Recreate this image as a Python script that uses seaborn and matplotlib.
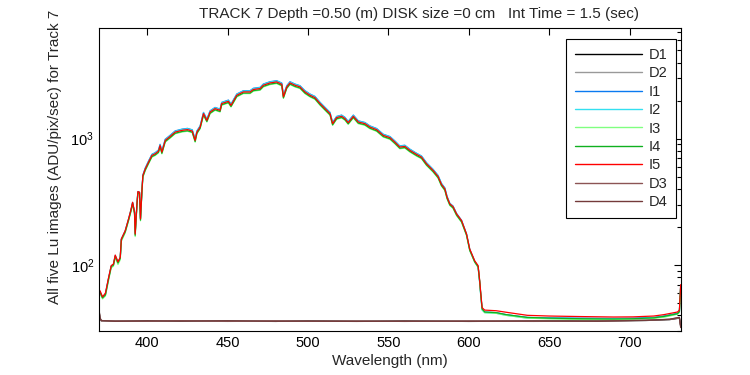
import numpy as np
import pandas as pd
import seaborn as sns
import matplotlib.pyplot as plt

# wavelength grid (nm) for the illuminated spectra
wl = [370.0, 370.8, 372.2, 374.0, 376.0, 377.6, 379.0, 380.1, 381.8, 383.2,
      383.9, 386.3, 388.4, 390.0, 390.9, 392.1, 392.5, 393.6, 394.2, 395.2,
      395.8, 396.7, 397.3, 398.8, 400.8, 402.9, 405.0, 407.0, 408.0, 409.1,
      411.2, 414.3, 417.4, 421.6, 425.0, 428.0, 429.8, 430.9, 432.9, 435.0,
      437.1, 439.1, 442.2, 445.3, 446.3, 450.5, 452.1, 455.7, 459.8, 464.0,
      466.0, 470.2, 472.2, 476.4, 480.5, 483.7, 484.7, 486.8, 488.8, 491.9,
      495.0, 498.1, 501.2, 504.3, 507.5, 510.6, 513.7, 515.3, 517.8, 520.9,
      523.0, 525.0, 528.2, 531.3, 535.4, 538.5, 542.7, 546.8, 551.0, 554.0,
      557.1, 560.2, 563.4, 567.5, 570.6, 573.7, 577.8, 580.9, 583.0, 585.1,
      586.5, 588.2, 590.2, 592.4, 595.5, 598.6, 600.6, 603.7, 605.8, 606.8,
      607.5, 608.3, 609.9, 617.1, 623.3, 636.5, 650.0, 670.4, 690.0, 702.2,
      715.0, 721.3, 729.8, 731.0, 731.8]

i1 = [63, 60, 55, 59, 79, 98, 101, 118, 105, 114,
      160, 186, 231, 276, 312, 262, 180, 303, 380, 376,
      235, 391, 516, 587, 665, 752, 776, 814, 903, 800,
      990, 1066, 1153, 1190, 1207, 1176, 990, 1153, 1263, 1614,
      1428, 1662, 1768, 1715, 1939, 2021, 1879, 2258, 2398, 2400,
      2506, 2550, 2708, 2826, 2878, 2757, 2199, 2628, 2826, 2708,
      2628, 2400, 2259, 2162, 1940, 1769, 1615, 1345, 1501, 1538,
      1475, 1370, 1538, 1385, 1344, 1263, 1204, 1085, 1040, 961,
      877, 888, 826, 767, 730, 646, 572, 512, 443, 408,
      349, 308, 293, 256, 226, 176, 133, 107, 97, 73,
      57, 45, 42.5, 42, 40.5, 38.5, 38.2, 38, 37.8, 38,
      38.5, 39.5, 41.5, 43, 68]

i2 = [63, 61, 55, 59, 79, 98, 101, 119, 105, 114,
      160, 186, 231, 277, 313, 262, 178, 304, 381, 377,
      233, 390, 514, 584, 661, 747, 771, 809, 897, 795,
      984, 1059, 1146, 1183, 1200, 1169, 984, 1146, 1256, 1605,
      1420, 1653, 1758, 1705, 1928, 2009, 1868, 2245, 2384, 2385,
      2491, 2535, 2692, 2809, 2861, 2741, 2186, 2613, 2809, 2692,
      2613, 2385, 2245, 2148, 1928, 1758, 1605, 1337, 1492, 1529,
      1466, 1362, 1529, 1377, 1337, 1256, 1197, 1079, 1035, 955,
      872, 883, 821, 763, 727, 643, 570, 510, 441, 406,
      348, 307, 292, 255, 225, 175, 132, 106, 96, 72,
      56, 44, 42, 41.5, 40, 38, 37.8, 37.6, 37.5, 37.6,
      38.2, 39, 41, 42.5, 67]

i3 = [61, 59, 54, 57, 76, 95, 98, 115, 101, 110,
      154, 180, 224, 268, 303, 252, 168, 294, 369, 364,
      224, 376, 495, 560, 632, 714, 737, 773, 858, 759,
      940, 1012, 1094, 1129, 1145, 1116, 940, 1094, 1199, 1532,
      1355, 1577, 1677, 1627, 1839, 1917, 1782, 2142, 2275, 2275,
      2377, 2418, 2568, 2680, 2730, 2614, 2086, 2493, 2680, 2568,
      2493, 2275, 2142, 2050, 1839, 1677, 1532, 1276, 1424, 1459,
      1399, 1300, 1459, 1314, 1276, 1199, 1143, 1030, 987, 912,
      832, 843, 784, 728, 694, 614, 544, 487, 422, 389,
      334, 296, 281, 246, 218, 171, 130, 105, 96, 73,
      57, 44.5, 42, 41.5, 40, 38, 37.5, 37, 37, 37.2,
      37.8, 38.6, 40.8, 42.2, 66]

i4 = [62, 60, 55, 58, 78, 97, 100, 117, 104, 113,
      158, 183, 227, 272, 308, 257, 172, 299, 374, 369,
      227, 381, 502, 566, 639, 722, 745, 781, 867, 767,
      950, 1022, 1105, 1141, 1156, 1127, 950, 1105, 1211, 1547,
      1369, 1593, 1694, 1643, 1858, 1936, 1800, 2164, 2298, 2298,
      2401, 2443, 2594, 2708, 2758, 2641, 2107, 2519, 2708, 2594,
      2519, 2298, 2164, 2071, 1858, 1694, 1547, 1289, 1439, 1474,
      1413, 1313, 1474, 1328, 1289, 1211, 1154, 1041, 998, 921,
      841, 852, 792, 736, 701, 620, 550, 492, 426, 393,
      337, 299, 284, 249, 220, 173, 131, 106, 97, 74,
      58, 45, 42.5, 42, 40.5, 38.5, 38, 37.6, 37.4, 37.6,
      38.2, 39.2, 41.2, 42.8, 68]

i5 = [64, 62, 56, 60, 80, 99, 102, 120, 106, 115,
      161, 187, 232, 278, 314, 262, 176, 305, 382, 377,
      232, 389, 512, 578, 652, 737, 760, 797, 885, 783,
      969, 1043, 1128, 1164, 1180, 1150, 969, 1128, 1236, 1579,
      1397, 1626, 1729, 1677, 1896, 1976, 1837, 2208, 2345, 2345,
      2450, 2493, 2647, 2763, 2814, 2695, 2150, 2570, 2763, 2647,
      2570, 2345, 2208, 2113, 1896, 1729, 1579, 1315, 1468, 1504,
      1442, 1340, 1504, 1355, 1315, 1236, 1178, 1062, 1018, 940,
      858, 869, 808, 751, 715, 633, 561, 502, 435, 401,
      344, 305, 290, 254, 225, 176, 134, 108, 99, 75,
      59, 46, 44, 43.5, 42.3, 40, 39.5, 39.1, 38.8, 38.9,
      39.5, 40.5, 42.5, 44, 70]

# dark frames
wl_dark = [370.0, 370.6, 371.4, 380, 400, 420, 450, 480, 500, 530,
           560, 600, 640, 680, 710, 725, 731.0, 731.8]
d1 = [44, 38, 36.3, 36.0, 36.2, 35.9, 36.1, 35.8, 36.3, 35.9,
      36.1, 35.8, 36.0, 36.2, 36.4, 37.0, 38.0, 33.0]
d2 = [43, 37.5, 36.1, 36.2, 35.9, 36.1, 35.8, 36.0, 36.1, 36.0,
      35.9, 36.0, 35.8, 36.0, 36.5, 37.2, 38.2, 32.5]
d3 = [44, 38.2, 36.2, 36.1, 36.0, 36.3, 35.9, 36.2, 35.9, 36.1,
      35.8, 36.1, 35.9, 36.1, 36.6, 37.1, 38.4, 33.0]
d4 = [45, 38.5, 36.4, 35.9, 36.1, 36.0, 36.2, 35.9, 36.0, 35.8,
      36.0, 35.9, 36.1, 35.9, 36.5, 37.3, 38.6, 32.0]

order = ['D1', 'D2', 'I1', 'I2', 'I3', 'I4', 'I5', 'D3', 'D4']
colors = {'D1': '#000000', 'D2': '#999999', 'I1': '#0a7af0', 'I2': '#33e0f0',
          'I3': '#80ff80', 'I4': '#10b020', 'I5': '#ff0000',
          'D3': '#8c5454', 'D4': '#743a3a'}

series = {'D1': (wl_dark, d1), 'D2': (wl_dark, d2), 'I1': (wl, i1), 'I2': (wl, i2),
          'I3': (wl, i3), 'I4': (wl, i4), 'I5': (wl, i5),
          'D3': (wl_dark, d3), 'D4': (wl_dark, d4)}

frames = []
for name in order:
    xs, ys = series[name]
    frames.append(pd.DataFrame({'wl': xs, 'val': ys, 'series': name}))
df = pd.concat(frames, ignore_index=True)

sns.set_style('white')
plt.rcParams['font.family'] = ['Liberation Sans', 'DejaVu Sans']
plt.rcParams['mathtext.fontset'] = 'custom'
plt.rcParams['mathtext.rm'] = 'Liberation Sans'
plt.rcParams['mathtext.it'] = 'Liberation Sans'

fig = plt.figure(figsize=(7.5, 3.75), dpi=100)
ax = fig.add_axes([0.132, 0.117, 0.776, 0.808])

sns.lineplot(data=df, x='wl', y='val', hue='series', hue_order=order,
             palette=colors, estimator=None, sort=False, linewidth=0.9, ax=ax)

ax.set_yscale('log')
ax.set_xlim(370, 732)
ax.set_ylim(30, 7500)
ax.set_xticks([400, 450, 500, 550, 600, 650, 700])

for s in ax.spines.values():
    s.set_color('black')
    s.set_linewidth(0.8)
ax.tick_params(which='both', direction='in', top=True, right=True,
               colors='black', labelsize=10.5, width=0.8)
ax.tick_params(which='major', length=5)
ax.tick_params(which='minor', length=3)
ax.tick_params(axis='x', which='minor', bottom=False, top=False)

ax.set_title('TRACK 7 Depth =0.50 (m) DISK size =0 cm   Int Time = 1.5 (sec)',
             fontsize=11, pad=7, x=0.55)
ax.set_xlabel('Wavelength (nm)', fontsize=11, labelpad=3)
ax.set_ylabel('All five Lu images (ADU/pix/sec) for Track 7', fontsize=11)
ax.yaxis.set_label_coords(-0.064, 0.574)

leg = ax.legend(loc='upper right', bbox_to_anchor=(0.991, 0.963), borderaxespad=0,
                fontsize=10.5, frameon=True, fancybox=False, framealpha=1,
                edgecolor='black', handlelength=4.6, handletextpad=0.45,
                labelspacing=0.3, borderpad=0.6, title=None)
leg.get_frame().set_linewidth(0.8)
for line in leg.get_lines():
    line.set_linewidth(1.0)

fig.savefig('out.png', dpi=100)
